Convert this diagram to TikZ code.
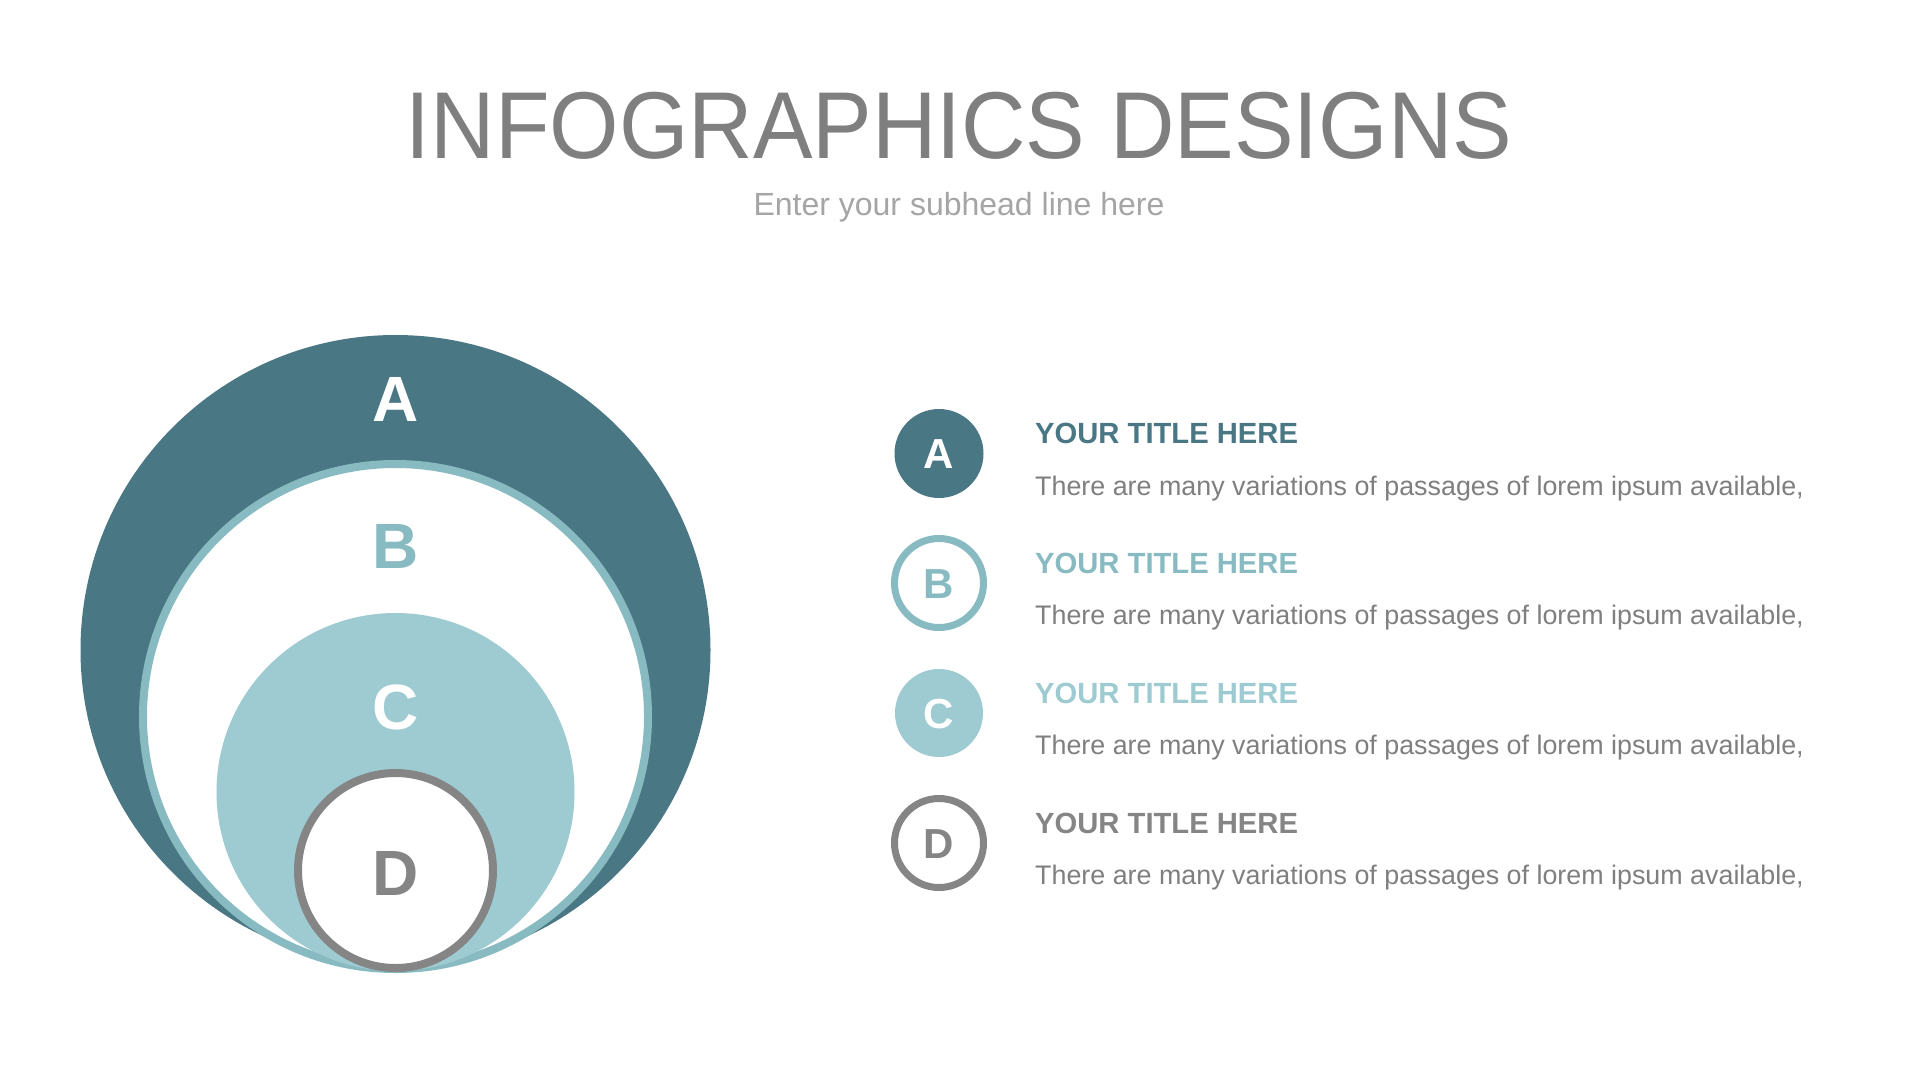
\documentclass[tikz,border=0pt]{standalone}
\usepackage{fontspec}
\setmainfont{Liberation Sans}
\newfontfamily\titlefont[FakeStretch=0.94]{Liberation Sans}
\definecolor{cA}{HTML}{4A7784}
\definecolor{cB}{HTML}{88BAC1}
\definecolor{cC}{HTML}{9DCBD1}
\definecolor{cD}{HTML}{858585}
\definecolor{txt}{HTML}{7F7F7F}
\definecolor{sub}{HTML}{A5A5A5}
\tikzset{
  disc/.style={circle, inner sep=0pt, outer sep=0pt},
  bigletter/.style={anchor=base, inner sep=0pt, font=\fontsize{64}{70}\selectfont\bfseries},
  smallletter/.style={anchor=base, inner sep=0pt, font=\fontsize{42}{46}\selectfont\bfseries},
  itemtitle/.style={anchor=base west, inner sep=0pt, font=\fontsize{29.2}{33}\selectfont\bfseries},
  itembody/.style={anchor=base west, inner sep=0pt, text=txt, font=\fontsize{26.85}{31}\selectfont},
}
\begin{document}
\begin{tikzpicture}[x=1pt,y=-1pt]
\useasboundingbox[fill=white] (0,0) rectangle (1920,1080);
% header
\node[anchor=base, inner sep=0pt, text=txt, font=\titlefont\fontsize{95}{100}\selectfont] (title) at (959,158) {INFOGRAPHICS DESIGNS};
\node[anchor=base, inner sep=0pt, text=sub, font=\fontsize{32}{36}\selectfont] (subtitle) at (959,215) {Enter your subhead line here};
% nested circles
\node[disc, fill=cA, minimum size=630] (bigA) at (395.5,650) {};
\node[disc, fill=white, draw=cB, line width=8, minimum size=505] (bigB) at (395.5,716.5) {};
\node[disc, fill=cC, minimum size=358] (bigC) at (395.5,792) {};
\node[disc, fill=white, draw=cD, line width=8, minimum size=195] (bigD) at (395.5,870.5) {};
\node[bigletter, text=white] (lA) at (395.5,421.6) {A};
\node[bigletter, text=cB] (lB) at (395.5,568.5) {B};
\node[bigletter, text=white] (lC) at (395.5,729) {C};
\node[bigletter, text=cD] (lD) at (395.5,895) {D};
% legend
\node[disc, fill=cA, minimum size=89] (iA) at (939,453.5) {};
\node[disc, fill=white, draw=cB, line width=7, minimum size=89] (iB) at (939,583) {};
\node[disc, fill=cC, minimum size=88] (iC) at (939,713) {};
\node[disc, fill=white, draw=cD, line width=7, minimum size=89] (iD) at (939,843) {};
\node[smallletter, text=white] (sA) at (939,468.5) {A};
\node[smallletter, text=cB] (sB) at (939,598) {B};
\node[smallletter, text=white] (sC) at (939,728) {C};
\node[smallletter, text=cD] (sD) at (939,858) {D};
\node[itemtitle, text=cA] (tA) at (1035,443) {YOUR TITLE HERE};
\node[itemtitle, text=cB] (tB) at (1035,573) {YOUR TITLE HERE};
\node[itemtitle, text=cC] (tC) at (1035,703) {YOUR TITLE HERE};
\node[itemtitle, text=cD] (tD) at (1035,833) {YOUR TITLE HERE};
\node[itembody] (bA) at (1035,495) {There are many variations of passages of lorem ipsum available,};
\node[itembody] (bB) at (1035,624) {There are many variations of passages of lorem ipsum available,};
\node[itembody] (bC) at (1035,754) {There are many variations of passages of lorem ipsum available,};
\node[itembody] (bD) at (1035,884) {There are many variations of passages of lorem ipsum available,};
\end{tikzpicture}
\end{document}
